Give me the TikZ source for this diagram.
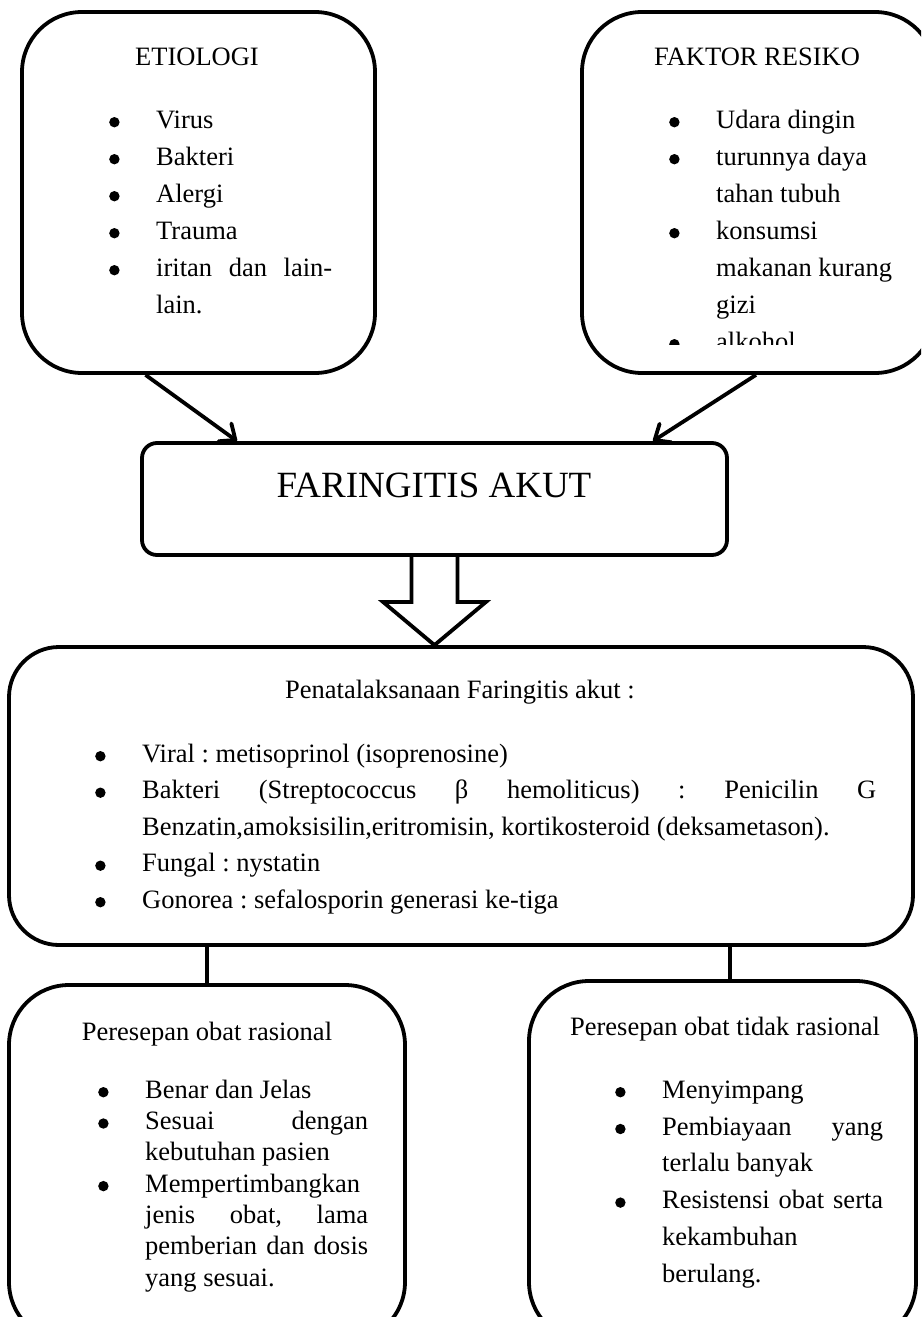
\documentclass[tikz,border=0pt]{standalone}
\usepackage{fontspec}
\setmainfont{Liberation Serif}
\usetikzlibrary{positioning,calc,arrows.meta}
\newcommand{\dotb}{\tikz[baseline=0pt]\fill (5pt,6pt) circle[radius=5.2pt];}
\newcommand{\bul}{\makebox[47pt][l]{\dotb}}
\newcommand{\ind}{\hspace*{47pt}}
\newcommand{\jline}[2]{\makebox[#1][s]{#2}}
\newcommand{\fst}{\rule{0pt}{26pt}}
\frenchspacing

\begin{document}
\begin{tikzpicture}[x=1pt,y=-1pt,
    box/.style={draw, line width=3.8pt, inner sep=0pt},
    txt/.style={font=\fontsize{26.5}{37}\selectfont, inner sep=0pt},
    lst/.style={txt, align=left, anchor=north west},
    arr/.style={line width=3.8pt, -{Straight Barb[length=13pt,width=22pt,round]}},
    link/.style={line width=3.8pt}]
    \useasboundingbox (0,0) rectangle (921,1317);
    \clip (0,0) rectangle (921,1317);

    % top boxes
    \node[box, rounded corners=60pt, minimum width=353pt, minimum height=361pt] (etio) at (198.5,192.5) {};
    \node[txt, anchor=base] (etioT) at (197,65) {ETIOLOGI};
    \node[lst] (etioL) at (109,102) {\fst\bul Virus\\ \bul Bakteri\\ \bul Alergi\\ \bul Trauma\\
        \bul\jline{176pt}{iritan dan lain-}\\ \ind lain.};

    \node[box, rounded corners=60pt, minimum width=353pt, minimum height=361pt] (faktor) at (758.5,192.5) {};
    \node[txt, anchor=base] (faktorT) at (757,65) {FAKTOR RESIKO};
    \begin{scope}
        \clip (582,0) rectangle (921,344); % cut last line
        \node[lst] (faktorL) at (669,102) {\fst\bul Udara dingin\\ \bul turunnya daya\\ \ind tahan tubuh\\
            \bul konsumsi\\ \ind makanan kurang\\ \ind gizi\\ \bul alkohol};
    \end{scope}

    % middle
    \node[box, rounded corners=15pt, minimum width=585pt, minimum height=112pt] (faring) at (434.5,499) {};
    \node[txt, font=\fontsize{37}{44}\selectfont, anchor=base] (faringT) at (434,497) {FARINGITIS AKUT};

    \draw[arr] ([xshift=-53pt]etio.south) -- ([xshift=-197.5pt]faring.north);
    \draw[arr] ([xshift=-2.5pt]faktor.south) -- ([xshift=218.5pt]faring.north);

    \node[box, rounded corners=50pt, minimum width=904pt, minimum height=298pt] (tata) at (461,796) {};
    \node[txt, anchor=base] (tataT) at (460,698) {Penatalaksanaan Faringitis akut :};
    \node[lst, font=\fontsize{26.5}{36.5}\selectfont] (tataL) at (95,736) {\fst\bul Viral : metisoprinol (isoprenosine)\\
        \bul\jline{734pt}{Bakteri (Streptococcus β hemoliticus) : Penicilin G}\\
        \ind Benzatin,amoksisilin,eritromisin, kortikosteroid (deksametason).\\
        \bul Fungal : nystatin\\ \bul Gonorea : sefalosporin generasi ke-tiga};

    % hollow arrow
    \draw[line width=3.8pt, line join=miter] ([xshift=-23pt]faring.south) -- ++(0,45) -- ++(-28.5,0)
        -- (faring.south |- tata.north) -- ([xshift=51.5pt,yshift=-45pt]faring.south)
        -- ++(-28.5,0) -- ([xshift=23pt]faring.south);

    % bottom boxes
    \node[box, rounded corners=60pt, minimum width=396pt, minimum height=357pt] (rasional) at (207,1163.5) {};
    \node[txt, anchor=base] (rasionalT) at (207,1040) {Peresepan obat rasional};
    \node[lst, font=\fontsize{26.5}{31.3}\selectfont] (rasionalL) at (98,1072) {\fst\bul Benar dan Jelas\\
        \bul\jline{223pt}{Sesuai dengan}\\ \ind kebutuhan pasien\\ \bul Mempertimbangkan\\
        \ind\jline{223pt}{jenis obat, lama}\\ \ind\jline{223pt}{pemberian dan dosis}\\ \ind yang sesuai.};

    \node[box, rounded corners=60pt, minimum width=387pt, minimum height=361pt] (tidak) at (722.5,1161.5) {};
    \node[txt, anchor=base] (tidakT) at (725,1035) {Peresepan obat tidak rasional};
    \node[lst, font=\fontsize{26.5}{36.8}\selectfont] (tidakL) at (615,1072) {\fst\bul Menyimpang\\
        \bul\jline{221pt}{Pembiayaan yang}\\ \ind terlalu banyak\\ \bul\jline{221pt}{Resistensi obat serta}\\
        \ind kekambuhan\\ \ind berulang.};

    \draw[link] (rasional.north) -- (rasional.north |- tata.south);
    \draw[link] ([xshift=7.5pt]tidak.north) -- ([xshift=7.5pt]tidak.north |- tata.south);
\end{tikzpicture}
\end{document}
